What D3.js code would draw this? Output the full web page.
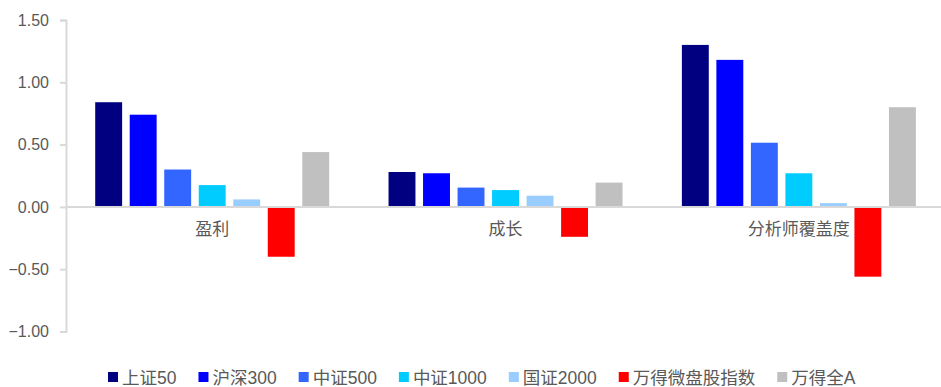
<!DOCTYPE html>
<html><head><meta charset="utf-8">
<script src="https://cdn.jsdelivr.net/npm/d3@7"></script>
<style>body{margin:0;background:#fff}svg{display:block}</style>
</head><body><svg id="c" width="941" height="387"></svg>
<script>
const categories = ["盈利", "成长", "分析师覆盖度"];
const seriesNames = ["上证50", "沪深300", "中证500", "中证1000", "国证2000", "万得微盘股指数", "万得全A"];
const seriesColors = ["#000080", "#0000ff", "#3366ff", "#00ccff", "#99ccff", "#ff0000", "#c0c0c0"];
const sz50 = [0.84, 0.28, 1.30];
const hs300 = [0.74, 0.27, 1.18];
const zz500 = [0.30, 0.155, 0.515];
const zz1000 = [0.175, 0.135, 0.27];
const gz2000 = [0.06, 0.09, 0.03];
const wdMicro = [-0.40, -0.24, -0.56];
const wdAllA = [0.44, 0.195, 0.80];
const yTicks = [-1.0, -0.5, 0, 0.5, 1.0, 1.5];

const seriesValues = [sz50, hs300, zz500, zz1000, gz2000, wdMicro, wdAllA];
const svg = d3.select("#c");
const font = "'Liberation Sans', Arial, 'Noto Sans CJK SC', sans-serif";
const textColor = "#595959";

const y = d3.scaleLinear().domain([-1, 1.5]).range([331.5, 20]);
const x0 = d3.scaleBand().domain(categories).range([65.5, 945.5]);
const x1 = d3.scaleBand().domain(seriesNames).range([29.7, 263.7]).paddingInner(0.22);

// y axis
const axisX = 66;
const yAxis = d3.axisLeft(y).tickValues(yTicks).tickFormat(d3.format(".2f")).tickSize(6).tickPadding(11);
const gy = svg.append("g").attr("transform", `translate(${axisX},0)`).call(yAxis);
gy.select(".domain").attr("stroke", "#d9d9d9").attr("stroke-width", 2);
gy.selectAll(".tick line").attr("stroke", "#d9d9d9").attr("stroke-width", 2);
gy.selectAll(".tick text").attr("fill", textColor).style("font-family", font).style("font-size", "16px");

// bars
categories.forEach((cat, ci) => {
  const g = svg.append("g").attr("transform", `translate(${x0(cat)},0)`);
  seriesNames.forEach((s, si) => {
    const v = seriesValues[si][ci];
    g.append("rect")
      .attr("x", x1(s))
      .attr("width", x1.bandwidth())
      .attr("y", y(Math.max(0, v)))
      .attr("height", Math.abs(y(v) - y(0)))
      .attr("fill", seriesColors[si]);
  });
});

// zero line
svg.append("line").attr("x1", axisX).attr("x2", 941).attr("y1", y(0)).attr("y2", y(0))
  .attr("stroke", "#d9d9d9").attr("stroke-width", 2);

// category labels
svg.selectAll("text.cat").data(categories).enter().append("text")
  .attr("class", "cat")
  .attr("x", d => x0(d) + x0.bandwidth() / 2)
  .attr("y", 235)
  .attr("text-anchor", "middle")
  .attr("fill", textColor)
  .style("font-family", "'Noto Sans CJK SC', sans-serif")
  .style("font-size", "17px")
  .text(d => d);

// legend
const lg = svg.append("g");
let lx = 108;
seriesNames.forEach((s, i) => {
  lg.append("rect").attr("x", lx).attr("y", 372).attr("width", 10).attr("height", 10).attr("fill", seriesColors[i]);
  const t = lg.append("text").attr("x", lx + 14).attr("y", 383.5)
    .attr("fill", textColor).style("font-family", font).style("font-size", "17.5px").text(s);
  lx += 14 + t.node().getComputedTextLength() + 22;
});
</script></body></html>
